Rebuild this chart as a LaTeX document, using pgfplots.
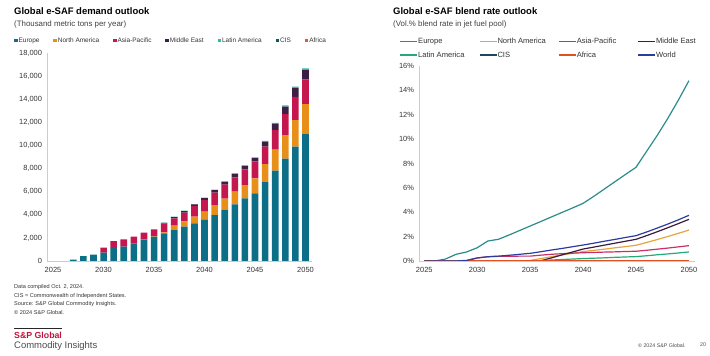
\documentclass[border=0pt]{standalone}
\usepackage{pgfplots}
\pgfplotsset{compat=1.18}
\usepackage{pgfplotstable}
\usepackage{fontspec}
\setmainfont{Liberation Sans}

\definecolor{beu}{HTML}{0D6E87}
\definecolor{bna}{HTML}{E88F1A}
\definecolor{bap}{HTML}{C4174F}
\definecolor{bme}{HTML}{3D1F45}
\definecolor{bla}{HTML}{38B7A5}
\definecolor{bcis}{HTML}{0C5A5E}
\definecolor{baf}{HTML}{E05A2A}
\definecolor{leu}{HTML}{2A8B8B}
\definecolor{lna}{HTML}{E8A33A}
\definecolor{lap}{HTML}{C8306A}
\definecolor{lme}{HTML}{3A1C40}
\definecolor{lla}{HTML}{22AA7A}
\definecolor{lcis}{HTML}{1A4A5A}
\definecolor{laf}{HTML}{E05020}
\definecolor{lwo}{HTML}{2C3C9C}
\definecolor{spred}{HTML}{C0143C}

\pgfplotsset{
  sqleg/.style={legend image code/.code={\fill[##1,draw=none] (0bp,-1.7bp) rectangle (3.4bp,1.7bp);}},
  lnleg/.style={legend image code/.code={\fill[##1,draw=none] (0bp,-0.9bp) rectangle (17bp,0.9bp);}},
}

\pgfplotstableread{
year eu na ap me la cis af
2025 0 0 0 0 0 0 0
2026 0 0 0 0 0 0 0
2027 110 0 0 0 0 0 0
2028 430 0 0 0 0 0 0
2029 550 0 0 0 0 0 0
2030 720 0 430 0 0 0 0
2031 1120 0 610 0 0 0 0
2032 1240 0 640 0 0 0 0
2033 1530 0 570 0 0 0 0
2034 1820 30 600 0 0 0 0
2035 2100 60 580 0 0 0 0
2036 2400 80 780 40 20 0 0
2037 2680 380 630 110 30 0 0
2038 2970 460 750 140 30 0 0
2039 3260 570 930 140 30 0 0
2040 3550 720 1010 170 30 0 0
2041 3980 860 1070 220 40 0 0
2042 4440 950 1210 250 40 0 0
2043 4900 1100 1240 290 50 0 0
2044 5420 1150 1360 300 50 0 0
2045 5860 1290 1470 290 60 0 0
2046 6830 1560 1500 430 80 0 0
2047 7810 1820 1700 540 90 0 0
2048 8850 2050 1820 650 100 0 0
2049 9890 2310 2010 750 120 0 0
2050 10990 2590 2140 800 150 0 0
}\demand

\pgfplotstableread{
year eu na ap me la cis af wo
2025 0 0 0 0 0 0 0 0
2026 0 0 0 0 0 0 0 0
2027 0.16 0 0 0 0 0 0 0
2028 0.55 0 0 0 0 0 0 0
2029 0.74 0 0.03 0 0 0 0 0.05
2030 1.09 0 0.25 0 0 0 0 0.25
2031 1.64 0 0.35 0 0 0 0 0.35
2032 1.78 0 0.38 0 0 0 0 0.40
2033 2.13 0 0.38 0 0 0 0 0.47
2034 2.50 0 0.40 0 0 0 0 0.55
2035 2.87 0.05 0.40 0 0 0 0 0.63
2036 3.24 0.20 0.48 0.02 0.04 0 0 0.76
2037 3.61 0.35 0.55 0.25 0.08 0 0 0.90
2038 3.98 0.50 0.60 0.50 0.12 0 0 1.03
2039 4.35 0.63 0.64 0.74 0.16 0 0 1.17
2040 4.73 0.77 0.68 0.98 0.20 0 0 1.31
2041 5.30 0.87 0.70 1.14 0.23 0 0 1.46
2042 5.90 0.97 0.73 1.30 0.26 0 0 1.62
2043 6.50 1.08 0.75 1.46 0.30 0 0 1.77
2044 7.10 1.18 0.78 1.62 0.33 0 0 1.93
2045 7.69 1.29 0.80 1.78 0.36 0 0 2.08
2046 9.00 1.52 0.88 2.08 0.43 0 0 2.38
2047 10.30 1.76 0.97 2.40 0.51 0 0 2.70
2048 11.70 2.01 1.06 2.73 0.58 0 0 3.03
2049 13.20 2.27 1.16 3.07 0.66 0 0 3.38
2050 14.80 2.54 1.26 3.42 0.74 0 0 3.75
}\blend

\begin{document}
\begin{tikzpicture}[x=1bp,y=1bp]
\path[use as bounding box] (0bp,0bp) rectangle (710bp,356bp);

% titles
\node[anchor=west,inner sep=0,font=\bfseries\fontsize{9.5}{11}\selectfont] at (14bp,345bp) {Global e-SAF demand outlook};
\node[anchor=west,inner sep=0,font=\fontsize{7.9}{9}\selectfont,text=black!75] at (14bp,331.7bp) {(Thousand metric tons per year)};
\node[anchor=west,inner sep=0,font=\bfseries\fontsize{9.5}{11}\selectfont] at (393bp,345bp) {Global e-SAF blend rate outlook};
\node[anchor=west,inner sep=0,font=\fontsize{7.9}{9}\selectfont,text=black!75] at (393bp,331.7bp) {(Vol.\% blend rate in jet fuel pool)};

% left chart
\begin{axis}[
  at={(47bp,95bp)}, anchor=south west, scale only axis,
  width=264.6bp, height=208bp,
  xmin=2024.4, xmax=2050.6, ymin=0, ymax=18000,
  ybar stacked, bar width=6.6bp,
  axis lines=left, axis line style={-, draw=black!20},
  major tick length=0pt,
  scaled ticks=false,
  xtick={2025,2030,...,2050}, ytick={0,2000,...,18000},
  /pgf/number format/assume math mode=true,
  ticklabel style={font=\fontsize{7.5}{8}\selectfont, text=black!80},
  xticklabel style={/pgf/number format/1000 sep={}, yshift=-2.5bp},
  yticklabel style={/pgf/number format/1000 sep={,}, xshift=-1.5bp},
  legend columns=7,
  legend style={at={(-0.1247,1.078)}, anchor=north west, draw=none, fill=none,
    inner sep=0pt, font=\fontsize{6.5}{7}\selectfont, text=black!80,
    nodes={inner xsep=1bp, inner ysep=0.5bp},
    /tikz/every even column/.append style={column sep=13bp}},
  sqleg,
]
\addplot[fill=beu, draw=none, sqleg] table[x=year,y=eu]{\demand};
\addlegendentry{Europe}
\addplot[fill=bna, draw=none, sqleg] table[x=year,y=na]{\demand};
\addlegendentry{North America}
\addplot[fill=bap, draw=none, sqleg] table[x=year,y=ap]{\demand};
\addlegendentry{Asia-Pacific}
\addplot[fill=bme, draw=none, sqleg] table[x=year,y=me]{\demand};
\addlegendentry{Middle East}
\addplot[fill=bla, draw=none, sqleg] table[x=year,y=la]{\demand};
\addlegendentry{Latin America}
\addplot[fill=bcis, draw=none, sqleg] table[x=year,y=cis]{\demand};
\addlegendentry{CIS}
\addplot[fill=baf, draw=none, sqleg] table[x=year,y=af]{\demand};
\addlegendentry{Africa}
\end{axis}

% right chart
\begin{axis}[
  at={(419bp,95bp)}, anchor=south west, scale only axis,
  width=276bp, height=195bp,
  xmin=2024.5, xmax=2050.57, ymin=0, ymax=16,
  axis lines=left, axis line style={-, draw=black!20},
  major tick length=0pt,
  scaled ticks=false,
  xtick={2025,2030,...,2050}, ytick={0,2,...,16},
  /pgf/number format/assume math mode=true,
  ticklabel style={font=\fontsize{7.5}{8}\selectfont, text=black!80},
  xticklabel style={/pgf/number format/1000 sep={}, yshift=-2.5bp},
  yticklabel={\pgfmathprintnumber{\tick}\%},
  yticklabel style={xshift=-1.5bp},
  legend columns=4,
  legend style={at={(-0.0688,1.1472)}, anchor=north west, draw=none, fill=none,
    inner sep=0pt, font=\fontsize{7.6}{8}\selectfont, text=black!80,
    nodes={inner xsep=1bp, inner ysep=0.5bp, text height=5.4bp, text depth=1.5bp},
    row sep=6bp,
    /tikz/every even column/.append style={column sep=2.3bp}},
  lnleg,
]
\addplot[color=leu, line width=1.2bp, mark=none, lnleg] table[x=year,y=eu]{\blend};
\addlegendentry{\makebox[58bp][l]{Europe}}
\addplot[color=lna, line width=1.2bp, mark=none, lnleg] table[x=year,y=na]{\blend};
\addlegendentry{\makebox[58bp][l]{North America}}
\addplot[color=lap, line width=1.2bp, mark=none, lnleg] table[x=year,y=ap]{\blend};
\addlegendentry{\makebox[58bp][l]{Asia-Pacific}}
\addplot[color=lme, line width=1.2bp, mark=none, lnleg] table[x=year,y=me]{\blend};
\addlegendentry{\makebox[58bp][l]{Middle East}}
\addplot[color=lla, line width=1.2bp, mark=none, lnleg] table[x=year,y=la]{\blend};
\addlegendentry{\makebox[58bp][l]{Latin America}}
\addplot[color=lcis, line width=1.2bp, mark=none, lnleg] table[x=year,y=cis]{\blend};
\addlegendentry{\makebox[58bp][l]{CIS}}
\addplot[color=laf, line width=1.2bp, mark=none, lnleg] table[x=year,y=af]{\blend};
\addlegendentry{\makebox[58bp][l]{Africa}}
\addplot[color=lwo, line width=1.2bp, mark=none, lnleg] table[x=year,y=wo]{\blend};
\addlegendentry{\makebox[58bp][l]{World}}
\end{axis}

% footnotes
\begin{scope}[every node/.style={anchor=west,inner sep=0,font=\fontsize{5.6}{6}\selectfont,text=black!80}]
\node at (14bp,69bp) {Data compiled Oct. 2, 2024.};
\node at (14bp,60bp) {CIS = Commonwealth of Independent States.};
\node at (14bp,51.5bp) {Source: S\&P Global Commodity Insights.};
\node at (14bp,43bp) {© 2024 S\&P Global.};
\end{scope}

% logo
\draw[line width=1.5bp, black!85] (14bp,27.7bp) -- (62bp,27.7bp);
\node[anchor=west,inner sep=0,font=\bfseries\fontsize{8.8}{10}\selectfont,text=spred] at (14bp,21bp) {S\&P Global};
\node[anchor=west,inner sep=0,font=\fontsize{9.5}{11}\selectfont,text=black!70] at (14bp,10bp) {Commodity Insights};

\node[anchor=west,inner sep=0,font=\fontsize{5.3}{6}\selectfont,text=black!70] at (638bp,10bp) {© 2024 S\&P Global.};
\node[anchor=west,inner sep=0,font=\fontsize{5.3}{6}\selectfont,text=black!70] at (700bp,11bp) {20};
\end{tikzpicture}
\end{document}
